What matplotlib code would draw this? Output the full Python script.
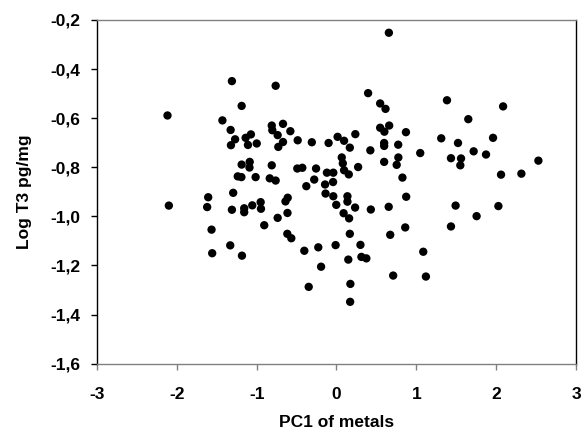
import numpy as np
import matplotlib
matplotlib.use('Agg')
import matplotlib.pyplot as plt
from matplotlib.ticker import FuncFormatter

plt.rcParams['font.family'] = ['Liberation Sans', 'DejaVu Sans']

# PC1 of metals (x) and Log T3 pg/mg (y)
pc1 = [
    -2.117, -1.310, -0.762, -1.188, -1.429, -1.326, -1.270, -1.322, -1.138, -1.072,
    -1.109, -0.999, -0.811, -0.804, -0.670, -0.737, -0.578, -0.670, -0.729, -0.486,
    -0.309, -0.099, -1.188, -1.087, -1.090, -0.811, -1.237, -1.191, -1.013, -0.836,
    -0.762, -0.491, -0.428, -0.256, -0.120, -0.279, -0.378, -0.143, -0.137, -1.607,
    -1.294, -0.950, -0.611, -0.639, 0.656, 0.396, 1.384, 2.087, 0.547, 0.614,
    1.651, 0.660, 0.547, 0.600, 0.870, 0.014, 0.095, 0.236, 0.167, 0.597,
    0.597, 0.773, 0.424, 1.312, 1.961, 1.522, 1.718, 1.873, 1.049, 1.434,
    1.560, 1.551, 0.775, 0.754, 0.597, 0.066, 0.079, 0.095, 0.154, 0.271,
    -0.040, -0.043, 0.826, 2.061, 2.316, 2.529, -0.040, 0.137, 0.137, 0.873,
    -2.100, -1.620, -1.310, -1.156, -1.156, -1.055, -0.946, -0.614, -0.737, -0.905,
    -1.565, -0.616, -0.566, -1.331, -1.557, -1.184, -0.403, -0.228, -0.193, -0.348,
    -0.003, 0.233, 0.089, 0.158, 0.430, 0.654, 1.492, 2.028, 1.755, 1.434,
    0.861, 0.673, 0.167, -0.011, 0.300, 0.312, 0.374, 0.148, 1.087, 0.710,
    1.120, 0.174, 0.171,
]
log_t3 = [
    -0.589, -0.449, -0.468, -0.550, -0.609, -0.648, -0.686, -0.710, -0.680, -0.666,
    -0.709, -0.703, -0.630, -0.649, -0.623, -0.669, -0.653, -0.697, -0.717, -0.690,
    -0.698, -0.701, -0.789, -0.778, -0.801, -0.792, -0.837, -0.840, -0.840, -0.845,
    -0.854, -0.805, -0.802, -0.805, -0.822, -0.850, -0.877, -0.870, -0.907, -0.922,
    -0.904, -0.942, -0.924, -0.939, -0.252, -0.498, -0.527, -0.552, -0.540, -0.562,
    -0.604, -0.630, -0.639, -0.655, -0.657, -0.676, -0.692, -0.665, -0.720, -0.701,
    -0.713, -0.708, -0.731, -0.682, -0.680, -0.701, -0.735, -0.748, -0.742, -0.763,
    -0.764, -0.792, -0.760, -0.790, -0.778, -0.760, -0.784, -0.812, -0.829, -0.799,
    -0.822, -0.860, -0.842, -0.830, -0.826, -0.773, -0.918, -0.918, -0.940, -0.920,
    -0.956, -0.962, -0.973, -0.967, -0.983, -0.955, -0.969, -0.986, -1.006, -1.036,
    -1.054, -1.071, -1.089, -1.118, -1.150, -1.160, -1.140, -1.126, -1.205, -1.287,
    -0.953, -0.964, -0.987, -1.008, -0.972, -0.961, -0.956, -0.958, -0.999, -1.041,
    -1.045, -1.075, -1.071, -1.117, -1.116, -1.165, -1.171, -1.176, -1.144, -1.241,
    -1.245, -1.275, -1.348,
]

x_ticks = [-3, -2, -1, 0, 1, 2, 3]
y_ticks = [-1.6, -1.4, -1.2, -1.0, -0.8, -0.6, -0.4, -0.2]

fig = plt.figure(figsize=(5.85, 4.45), dpi=100)
ax = fig.add_axes([0.1658, 0.1827, 0.8188, 0.7724])

ax.scatter(pc1, log_t3, s=36, color='black', edgecolors='none', zorder=3)

ax.set_xlim(-3, 3)
ax.set_ylim(-1.6, -0.2)
ax.set_xticks(x_ticks)
ax.set_yticks(y_ticks)
ax.xaxis.set_major_formatter(FuncFormatter(lambda v, p: '%d' % round(v)))
ax.yaxis.set_major_formatter(FuncFormatter(lambda v, p: ('%.1f' % v).replace('.', ',')))

ax.tick_params(axis='both', direction='out', length=4, width=1, labelsize=12.5)
ax.tick_params(axis='x', pad=12.5, color='#808080')
ax.tick_params(axis='y', pad=8)
for lab in ax.get_xticklabels() + ax.get_yticklabels():
    lab.set_fontweight('bold')

for side in ['top', 'bottom']:
    ax.spines[side].set_color('#808080')
for side in ['left', 'right']:
    ax.spines[side].set_color('black')
for sp in ax.spines.values():
    sp.set_linewidth(1)

ax.set_xlabel('PC1 of metals', fontsize=12.5, fontweight='bold')
ax.set_ylabel('Log T3 pg/mg', fontsize=12.5, fontweight='bold')
ax.xaxis.set_label_coords(0.5, -0.148)
ax.yaxis.set_label_coords(-0.136, 0.5)

fig.savefig('out.png', dpi=100)
